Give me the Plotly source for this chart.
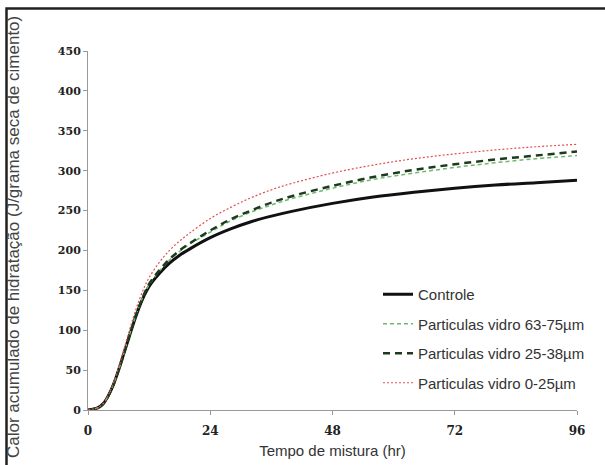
import plotly.graph_objects as go

hours = [0, 1, 2, 3, 4, 5, 6, 7, 8, 9, 10, 11, 12, 14, 16, 18, 20, 24, 28, 32, 36, 40, 48, 56, 64, 72, 80, 88, 96]
controle = [0, 1, 3, 8, 18, 32, 50, 70, 90, 110, 128, 143, 155, 171, 184, 194, 202, 216, 227, 236, 243, 249, 259, 267, 273, 278, 282, 285, 288]
vidro_63_75 = [0, 1, 3, 8, 18, 32, 50, 70, 91, 111, 129, 145, 157, 174, 188, 199, 208, 223, 237, 248, 257, 265, 278, 289, 297, 304, 310, 315, 319]
vidro_25_38 = [0, 1, 3, 8, 18, 32, 50, 70, 91, 111, 129, 145, 158, 175, 189, 200, 209, 225, 239, 250, 260, 268, 281, 292, 301, 308, 314, 319, 324]
vidro_0_25 = [0, 1, 3, 8, 19, 34, 53, 75, 97, 118, 137, 153, 166, 185, 200, 212, 222, 240, 254, 266, 276, 284, 297, 307, 315, 321, 326, 330, 333]

x_ticks = [0, 24, 48, 72, 96]
y_ticks = [0, 50, 100, 150, 200, 250, 300, 350, 400, 450]

names = ["Controle", "Particulas vidro 63-75µm", "Particulas vidro 25-38µm", "Particulas vidro 0-25µm"]

fig = go.Figure()
fig.add_trace(go.Scatter(x=hours, y=controle, mode="lines", name=names[0], legendgroup="a",
                         line=dict(color="#111111", width=3, shape="spline")))
fig.add_trace(go.Scatter(x=hours, y=vidro_63_75, mode="lines", name=names[1], legendgroup="b",
                         line=dict(color="#6fb86f", width=1.5, dash="4px,3px", shape="spline")))
fig.add_trace(go.Scatter(x=hours, y=vidro_25_38, mode="lines", name=names[2], legendgroup="c",
                         line=dict(color="#1e3a1e", width=2.5, dash="7px,5px", shape="spline")))
fig.add_trace(go.Scatter(x=hours, y=vidro_0_25, mode="lines", name=names[3], legendgroup="d",
                         line=dict(color="#e05050", width=1.2, dash="2px,2px", shape="spline")))

L, R, T, B = 88, 28, 51, 55
W, H = 605, 465
pw, ph = W - L - R, H - T - B

def px(xp):
    return (xp - L) / pw

def py(yp):
    return (H - B - yp) / ph

fig.update_layout(
    width=W, height=H,
    margin=dict(l=L, r=R, t=T, b=B, autoexpand=False),
    paper_bgcolor="white", plot_bgcolor="white",
    showlegend=True,
    legend=dict(x=px(378), y=py(278), xanchor="left", yanchor="top",
                font=dict(family="Liberation Sans, Arial", size=15, color="#333333"),
                bgcolor="rgba(0,0,0,0)", tracegroupgap=7, itemwidth=30),
    xaxis=dict(range=[0, 96], tickvals=x_ticks, ticktext=[str(v) for v in x_ticks],
               automargin=False,
               showgrid=False, zeroline=False, showline=True, linecolor="#999999", linewidth=1,
               ticks="outside", ticklen=4, tickcolor="#999999", ticklabelstandoff=6,
               tickfont=dict(family="DejaVu Serif", size=12, color="#222222", weight="bold"),
               title=dict(text="Tempo de mistura (hr)", standoff=8,
                          font=dict(family="Liberation Sans, Arial", size=15, color="#333333"))),
    yaxis=dict(range=[0, 450], tickvals=y_ticks, ticktext=[str(v) for v in y_ticks],
               automargin=False,
               showgrid=False, zeroline=False, showline=True, linecolor="#999999", linewidth=1,
               ticks="outside", ticklen=4, tickcolor="#999999",
               tickfont=dict(family="DejaVu Serif", size=11, color="#222222", weight="bold")),
    annotations=[dict(text="Calor acumulado de hidratação (J/grama seca de cimento)",
                      xref="paper", yref="paper", x=px(14), y=py(237), textangle=-90,
                      showarrow=False, xanchor="center", yanchor="middle",
                      font=dict(family="Liberation Sans, Arial", size=17, color="#444444"))],
    shapes=[dict(type="rect", xref="paper", yref="paper",
                 x0=px(6.5), x1=px(615), y0=py(480), y1=py(8.5),
                 line=dict(color="#222222", width=2.5), fillcolor="rgba(0,0,0,0)", layer="above")],
)

fig.write_html("out.html")
